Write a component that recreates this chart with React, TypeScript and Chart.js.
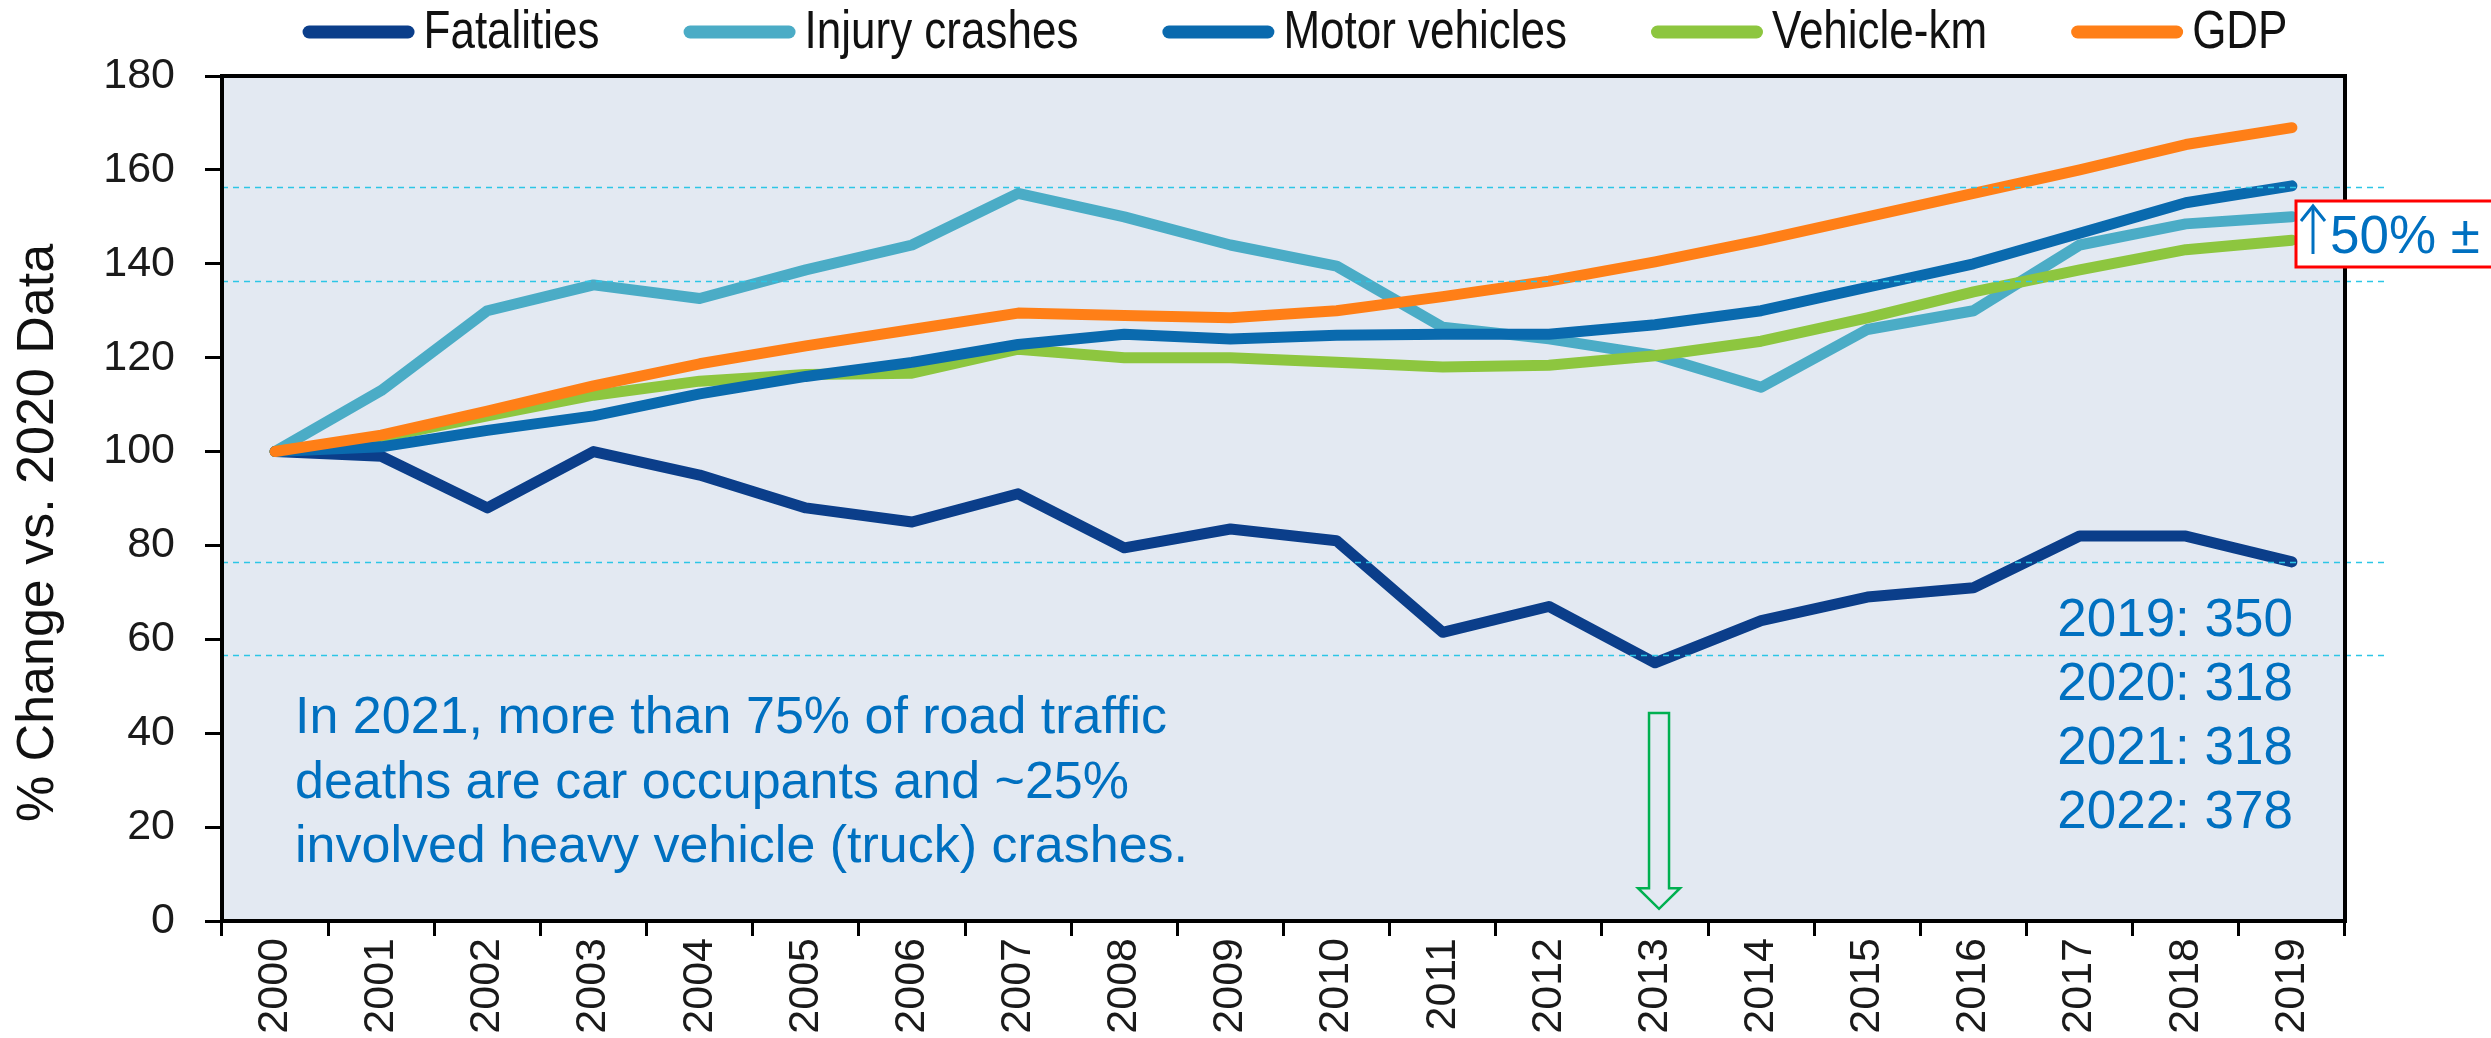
import React, { useEffect, useRef } from "react";
import { Chart, registerables } from "chart.js";

Chart.register(...registerables);

const years = ["2000", "2001", "2002", "2003", "2004", "2005", "2006", "2007", "2008", "2009", "2010", "2011", "2012", "2013", "2014", "2015", "2016", "2017", "2018", "2019"];
const fatalities = [100, 99, 88, 100, 95, 88, 85, 91, 79.5, 83.5, 81, 61.5, 67, 55, 64, 69, 71, 82, 82, 76.5];
const injuryCrashes = [100, 113, 130, 135.5, 132.6, 138.7, 144, 155, 150, 144, 139.5, 126.5, 124, 120.5, 113.7, 126, 130, 144, 148.5, 150];
const motorVehicles = [100, 101, 104.5, 107.6, 112.3, 116, 119, 122.8, 125, 124, 124.8, 125, 125, 127, 130, 135, 140, 146.5, 153, 156.6];
const vehicleKm = [100, 103, 107.6, 112, 115, 116.4, 116.7, 121.8, 120, 120, 119, 118, 118.4, 120.4, 123.5, 128.5, 134, 138.7, 143, 145];
const gdp = [100, 103.5, 108.6, 114, 118.7, 122.5, 126, 129.5, 129, 128.5, 130, 133, 136.3, 140.4, 145, 150, 155, 160, 165.4, 169];

const seriesNames = ["Fatalities", "Injury crashes", "Motor vehicles", "Vehicle-km", "GDP"];
const seriesColors = ["#0b3e8a", "#4bacc6", "#0a6aae", "#8dc63f", "#ff7f17"];
const seriesData = [fatalities, injuryCrashes, motorVehicles, vehicleKm, gdp];
const drawOrder = [4, 3, 1, 2, 0];

const yTicks = { min: 0, max: 180, step: 20 };
const referenceLevels = [156.4, 136.4, 76.5, 56.6];
const yTitle = "% Change vs. 2020 Data";
const noteLines = [
  "In 2021, more than 75% of road traffic",
  "deaths are car occupants and ~25%",
  "involved heavy vehicle (truck) crashes.",
];
const countLines = ["2019: 350", "2020: 318", "2021: 318", "2022: 378"];
const boxLabel = "50% \u00b1";
const arrowYear = "2013";

const SANS = '"Liberation Sans", Arial, Helvetica, sans-serif';
const BG = "#e3e9f2";
const BLUE_TEXT = "#0070c0";

const decorPlugin = {
  id: "decor",
  beforeDraw(chart: any) {
    const { ctx, chartArea: a } = chart;
    ctx.save();
    ctx.fillStyle = BG;
    ctx.fillRect(a.left, a.top, a.right - a.left, a.bottom - a.top);
    ctx.restore();
  },
  afterDatasetsDraw(chart: any) {
    const { ctx, chartArea: a } = chart;
    const ys = chart.scales.y;
    const xs = chart.scales.x;
    ctx.save();
    ctx.strokeStyle = "#2cc6e6";
    ctx.lineWidth = 1.6;
    ctx.setLineDash([6, 5]);
    referenceLevels.forEach((v) => {
      const y = Math.round(ys.getPixelForValue(v)) + 0.5;
      ctx.beginPath();
      ctx.moveTo(a.left, y);
      ctx.lineTo(a.right + 42, y);
      ctx.stroke();
    });
    ctx.setLineDash([]);

    const cx = xs.getPixelForValue(years.indexOf(arrowYear)) + 4;
    const top = ys.getPixelForValue(44.3);
    const shaftBottom = ys.getPixelForValue(7.0);
    const tip = ys.getPixelForValue(2.6);
    ctx.strokeStyle = "#00b050";
    ctx.lineWidth = 2.5;
    ctx.lineJoin = "miter";
    ctx.beginPath();
    ctx.moveTo(cx - 10, top);
    ctx.lineTo(cx + 10, top);
    ctx.lineTo(cx + 10, shaftBottom);
    ctx.lineTo(cx + 21, shaftBottom);
    ctx.lineTo(cx, tip);
    ctx.lineTo(cx - 21, shaftBottom);
    ctx.lineTo(cx - 10, shaftBottom);
    ctx.closePath();
    ctx.stroke();

    ctx.fillStyle = BLUE_TEXT;
    ctx.font = `52px ${SANS}`;
    ctx.textAlign = "left";
    ctx.textBaseline = "alphabetic";
    noteLines.forEach((t, i) => ctx.fillText(t, 295, 733 + i * 64.5));
    ctx.font = `53px ${SANS}`;
    ctx.textAlign = "right";
    countLines.forEach((t, i) => ctx.fillText(t, 2293, 636 + i * 64));
    ctx.restore();
  },
  afterDraw(chart: any) {
    const { ctx, chartArea: a } = chart;
    ctx.save();
    ctx.strokeStyle = "#000";
    ctx.lineWidth = 4;
    ctx.strokeRect(a.left, a.top, a.right - a.left, a.bottom - a.top);

    ctx.fillStyle = "#ffffff";
    ctx.fillRect(2296, 201, 220, 66);
    ctx.strokeStyle = "#ff0000";
    ctx.lineWidth = 3;
    ctx.strokeRect(2296, 201, 220, 66);
    ctx.strokeStyle = BLUE_TEXT;
    ctx.lineWidth = 3;
    ctx.lineCap = "butt";
    ctx.beginPath();
    ctx.moveTo(2313, 254);
    ctx.lineTo(2313, 207);
    ctx.stroke();
    ctx.beginPath();
    ctx.moveTo(2301, 221);
    ctx.lineTo(2313, 206);
    ctx.lineTo(2325, 221);
    ctx.stroke();
    ctx.fillStyle = BLUE_TEXT;
    ctx.font = `53px ${SANS}`;
    ctx.textAlign = "left";
    ctx.textBaseline = "alphabetic";
    ctx.fillText(boxLabel, 2330, 253);

    ctx.save();
    ctx.translate(53, 533);
    ctx.rotate(-Math.PI / 2);
    ctx.fillStyle = "#111";
    ctx.font = `52px ${SANS}`;
    ctx.textAlign = "center";
    ctx.fillText(yTitle, 0, 0);
    ctx.restore();

    const squeeze = 0.83;
    ctx.font = `53px ${SANS}`;
    const sample = 112;
    const gapText = 9;
    const gapItem = 84;
    const widths = seriesNames.map((n) => ctx.measureText(n).width * squeeze);
    const total = widths.reduce((s, w) => s + sample + gapText + w, 0) + gapItem * (seriesNames.length - 1);
    let x = 1295 - total / 2;
    seriesNames.forEach((n, i) => {
      ctx.strokeStyle = seriesColors[i];
      ctx.lineWidth = 13;
      ctx.lineCap = "round";
      ctx.beginPath();
      ctx.moveTo(x + 6.5, 32);
      ctx.lineTo(x + sample - 6.5, 32);
      ctx.stroke();
      ctx.save();
      ctx.translate(x + sample + gapText, 48);
      ctx.scale(squeeze, 1);
      ctx.fillStyle = "#111";
      ctx.textAlign = "left";
      ctx.fillText(n, 0, 0);
      ctx.restore();
      x += sample + gapText + widths[i] + gapItem;
    });
    ctx.restore();
  },
};

export default function App() {
  const ref = useRef<HTMLCanvasElement | null>(null);
  useEffect(() => {
    if (!ref.current) return;
    const chart = new Chart(ref.current, {
      type: "line",
      data: {
        labels: years,
        datasets: seriesNames.map((name, i) => ({
          label: name,
          data: seriesData[i],
          borderColor: seriesColors[i],
          backgroundColor: seriesColors[i],
          borderWidth: 11,
          borderCapStyle: "round",
          borderJoinStyle: "round",
          pointRadius: 0,
          tension: 0,
          fill: false,
          order: drawOrder[i],
        })),
      },
      options: {
        responsive: false,
        animation: false,
        devicePixelRatio: 1,
        layout: { padding: { top: 76, right: 146, bottom: 0, left: 0 } },
        plugins: {
          legend: { display: false },
          tooltip: { enabled: false },
          title: { display: false },
        },
        scales: {
          x: {
            type: "category",
            offset: true,
            grid: {
              display: true,
              drawOnChartArea: false,
              drawTicks: true,
              tickLength: 15,
              color: "#000",
              lineWidth: 3,
              offset: true,
            },
            border: { display: true, color: "#000", width: 4 },
            ticks: {
              autoSkip: false,
              maxRotation: 90,
              minRotation: 90,
              padding: 2,
              color: "#1a1a1a",
              font: { family: SANS, size: 43 },
            },
            afterFit: (s: any) => {
              s.height = 117;
            },
          },
          y: {
            min: yTicks.min,
            max: yTicks.max,
            grid: {
              display: true,
              drawOnChartArea: false,
              drawTicks: true,
              tickLength: 17,
              color: "#000",
              lineWidth: 3,
            },
            border: { display: true, color: "#000", width: 4 },
            ticks: {
              stepSize: yTicks.step,
              padding: 30,
              color: "#1a1a1a",
              font: { family: SANS, size: 43 },
            },
            afterFit: (s: any) => {
              s.width = 222;
            },
          },
        },
      },
      plugins: [decorPlugin],
    } as any);
    return () => chart.destroy();
  }, []);
  return (
    <div style={{ position: "fixed", left: 0, top: 0, width: 2491, height: 1038, background: "#fff" }}>
      <canvas ref={ref} width={2491} height={1038} style={{ width: 2491, height: 1038, display: "block" }} />
    </div>
  );
}
